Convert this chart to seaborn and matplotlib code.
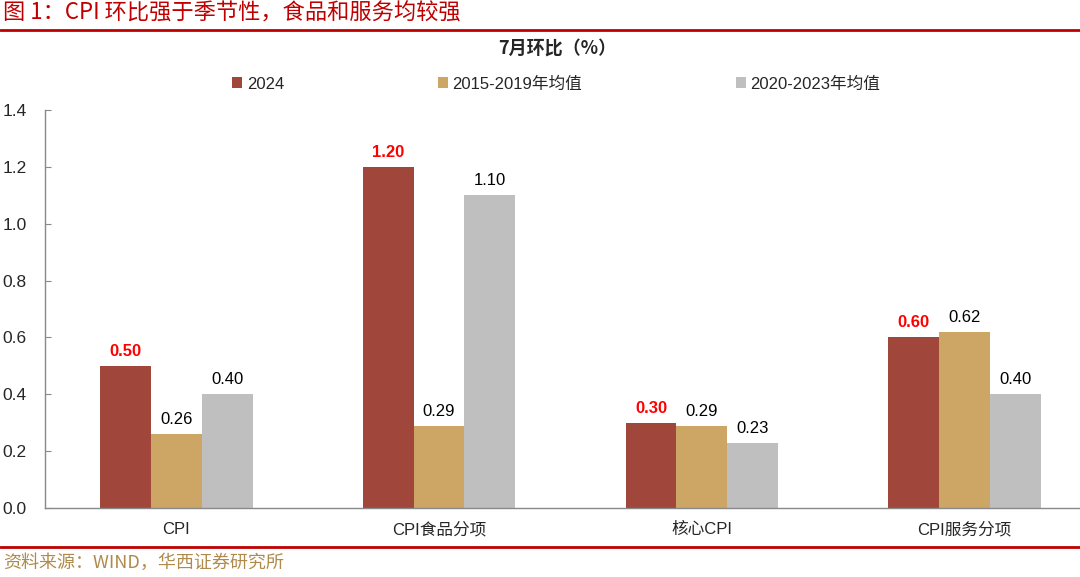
import pandas as pd
import numpy as np
import matplotlib
matplotlib.use('Agg')
import matplotlib.pyplot as plt
import seaborn as sns
from matplotlib.lines import Line2D
from matplotlib.patches import Patch

# data
categories = ['CPI', 'CPI食品分项', '核心CPI', 'CPI服务分项']
series_names = ['2024', '2015-2019年均值', '2020-2023年均值']
v_2024 = [0.50, 1.20, 0.30, 0.60]
v_1519 = [0.26, 0.29, 0.29, 0.62]
v_2023 = [0.40, 1.10, 0.23, 0.40]
colors = ['#A0463A', '#CDA564', '#BFBFBF']

df = pd.DataFrame({
    'cat': categories * 3,
    'series': [series_names[0]] * 4 + [series_names[1]] * 4 + [series_names[2]] * 4,
    'value': v_2024 + v_1519 + v_2023,
})

sns.set_style('white')
plt.rcParams['font.family'] = ['Liberation Sans', 'Noto Sans CJK SC', 'DejaVu Sans']

fig = plt.figure(figsize=(10.8, 5.77), dpi=100)
ax = fig.add_axes([45 / 1080, 1 - 508 / 577, 1 - 45 / 1080, (508 - 110) / 577])

sns.barplot(data=df, x='cat', y='value', hue='series', palette=colors,
            width=0.58, gap=0, saturation=1, linewidth=0, ax=ax, legend=False)

# value labels
for i, cont in enumerate(ax.containers):
    if i == 0:
        ax.bar_label(cont, fmt='%.2f', padding=5, color='#FF0000',
                     fontweight='bold', fontsize=12)
    else:
        ax.bar_label(cont, fmt='%.2f', padding=5, color='black', fontsize=12)

ax.set_ylim(0, 1.4)
ax.set_yticks(np.arange(0, 1.41, 0.2))
ax.set_yticklabels([f'{t:.1f}' for t in np.arange(0, 1.41, 0.2)])
ax.set_xlim(-0.5, 3.44)
ax.set_xlabel('')
ax.set_ylabel('')

for s in ['top', 'right']:
    ax.spines[s].set_visible(False)
for s in ['left', 'bottom']:
    ax.spines[s].set_color('#898989')
    ax.spines[s].set_linewidth(1)

ax.tick_params(axis='y', direction='in', length=4, color='#898989',
               labelsize=12.5, pad=13, left=True)
ax.tick_params(axis='x', length=0, labelsize=12, pad=10)

# legend
handles = [Patch(facecolor=c, edgecolor='none') for c in colors]
fig.legend(handles, series_names, loc='center', bbox_to_anchor=(0.515, 1 - 84 / 577),
           ncol=3, frameon=False, fontsize=12, handlelength=0.6, handleheight=0.6,
           handletextpad=0.3, columnspacing=9.2)

# chart title
fig.text(0.516, 1 - 48 / 577, '7月环比（%）', ha='center', va='center',
         fontsize=13, fontweight='bold', family=['Noto Sans CJK SC'])

# header and source
fig.text(0.003, 1 - 13 / 577, '图 1：CPI 环比强于季节性，食品和服务均较强',
         ha='left', va='center', fontsize=16, color='#C00000',
         family=['Noto Sans CJK SC'])
fig.add_artist(Line2D([0, 1], [1 - 30 / 577, 1 - 30 / 577], color='#C00000', lw=2))
fig.add_artist(Line2D([0, 1], [1 - 547 / 577, 1 - 547 / 577], color='#C00000', lw=2))
fig.text(0.003, 1 - 563 / 577, '资料来源：WIND，华西证券研究所',
         ha='left', va='center', fontsize=13, color='#B08A4A',
         family=['Noto Sans CJK SC'])

fig.savefig('out.png', dpi=100)
